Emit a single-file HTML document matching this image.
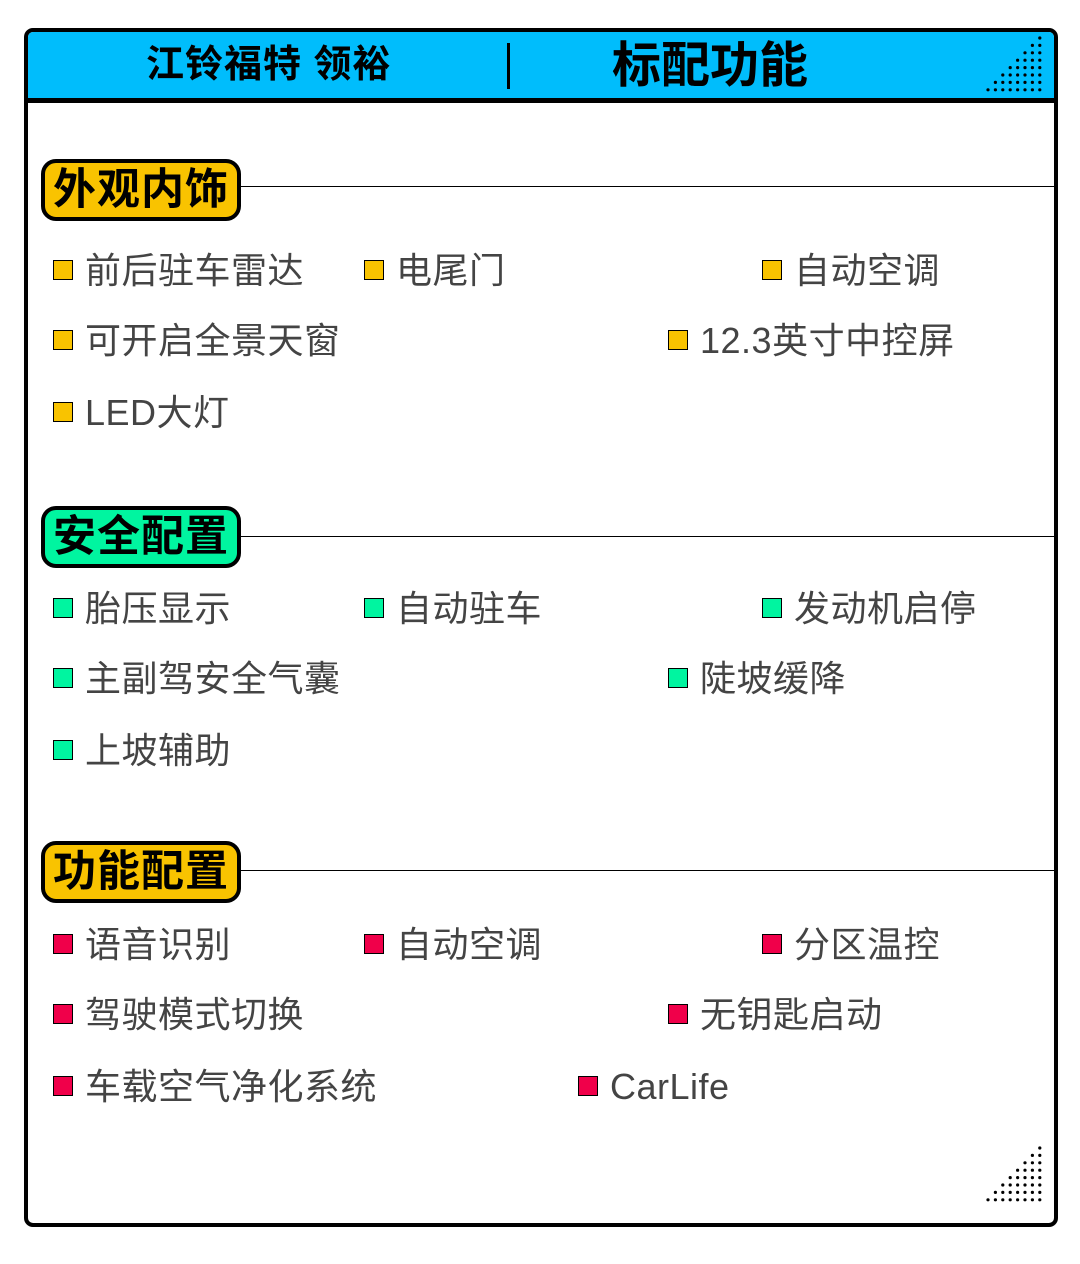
<!DOCTYPE html>
<html><head><meta charset="utf-8"><style>
body{margin:0;width:1080px;height:1264px;background:#fff;position:relative;overflow:hidden;font-family:"Liberation Sans","Noto Sans CJK SC",sans-serif}
.a{position:absolute}
.box{left:24px;top:28px;width:1026px;height:1191px;border:4px solid #000;border-radius:9px}
.hdr{left:28px;top:32px;width:1026px;height:66px;background:#00bdfc;border-bottom:5px solid #000;border-radius:5px 5px 0 0}
.t{white-space:nowrap;line-height:1}
.badge{left:41px;width:192px;height:54px;border:4px solid #000;border-radius:15px;font-weight:bold;font-size:43px;line-height:54px;text-align:center;letter-spacing:1px}
.ln{left:240px;width:816px;height:1px;background:#000}
.sq{width:18px;height:18px;border:1px solid #000}
.it{font-size:36px;color:#444;line-height:1;letter-spacing:0.5px}
</style></head><body>
<div class="a box"></div>
<div class="a hdr"></div>
<div class="a t" style="left:146px;top:46px;font-size:38px;font-weight:bold;letter-spacing:1px">江铃福特 领裕</div>
<div class="a" style="left:507px;top:43px;width:3px;height:46px;background:#000"></div>
<div class="a t" style="left:612px;top:42px;font-size:49px;font-weight:bold">标配功能</div>
<svg class="a" style="left:984px;top:34px" width="62" height="60" id="d1"></svg>
<svg class="a" style="left:984px;top:1144px" width="62" height="60" id="d2"></svg>

<div class="a badge" style="top:159px;background:#f9c300">外观内饰</div>
<div class="a ln" style="top:186px"></div>
<div class="a badge" style="top:506px;background:#00f5a0">安全配置</div>
<div class="a ln" style="top:536px"></div>
<div class="a badge" style="top:841px;background:#f9c300">功能配置</div>
<div class="a ln" style="top:870px"></div>

<div id="items"></div>
<script>
function dots(id){var s=document.getElementById(id),h='';for(var r=0;r<8;r++){for(var c=7-r;c<8;c++){h+='<circle cx="'+(4+c*7.4)+'" cy="'+(4+r*7.4)+'" r="1.6"/>';}}s.innerHTML=h;}
dots('d1');dots('d2');
var Y='#f9c300',G='#00f5a0',R='#f0004a';
var items=[
[53,270,Y,'前后驻车雷达'],[364,270,Y,'电尾门'],[762,270,Y,'自动空调'],
[53,340,Y,'可开启全景天窗'],[668,340,Y,'12.3英寸中控屏'],
[53,412,Y,'LED大灯'],
[53,608,G,'胎压显示'],[364,608,G,'自动驻车'],[762,608,G,'发动机启停'],
[53,678,G,'主副驾安全气囊'],[668,678,G,'陡坡缓降'],
[53,750,G,'上坡辅助'],
[53,944,R,'语音识别'],[364,944,R,'自动空调'],[762,944,R,'分区温控'],
[53,1014,R,'驾驶模式切换'],[668,1014,R,'无钥匙启动'],
[53,1086,R,'车载空气净化系统'],[578,1086,R,'CarLife']];
var h='';items.forEach(function(i){h+='<div class="a sq" style="left:'+i[0]+'px;top:'+(i[1]-10)+'px;background:'+i[2]+'"></div><div class="a t it" style="left:'+(i[0]+32)+'px;top:'+(i[1]-17)+'px">'+i[3]+'</div>';});
document.getElementById('items').innerHTML=h;
</script>
</body></html>
